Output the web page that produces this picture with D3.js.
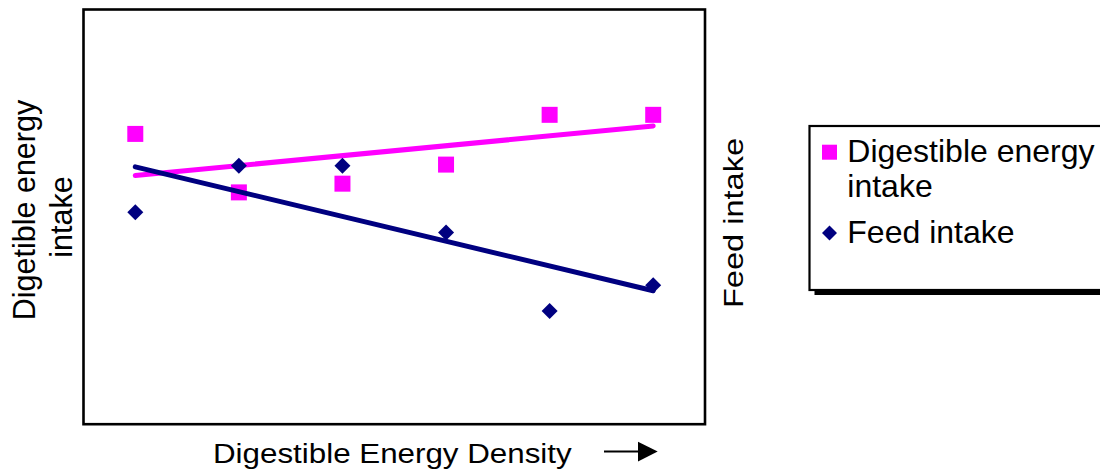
<!DOCTYPE html>
<html>
<head>
<meta charset="utf-8">
<script src="https://cdn.jsdelivr.net/npm/d3@7"></script>
<style>
  html, body { margin: 0; padding: 0; background: #fff; }
  svg { display: block; font-family: "Liberation Sans", Arial, sans-serif; }
</style>
</head>
<body>
<svg id="chart" width="1100" height="472"></svg>
<script>
// ---- data ----
const categories = [1, 2, 3, 4, 5, 6];
const deIntake   = [70.0, 55.9, 58.0, 62.6, 74.6, 74.6];   // Digestible energy intake (pink squares)
const feedIntake = [51.1, 62.3, 62.3, 46.2, 27.3, 33.5];   // Feed intake (navy diamonds)
const seriesNames = ["Digestible energy intake", "Feed intake"];
const yDomain = [0, 100];

// ---- layout ----
const svg = d3.select("#chart");
const plot = { left: 83.5, right: 705, top: 9.5, bottom: 424.2 };
const PINK = "#FF00FF", NAVY = "#000080";

const x = d3.scalePoint().domain(categories).range([plot.left, plot.right]).padding(0.5);
const y = d3.scaleLinear().domain(yDomain).range([plot.bottom, plot.top]);

function regression(xs, ys) {
  const n = xs.length;
  const mx = d3.mean(xs), my = d3.mean(ys);
  let sxy = 0, sxx = 0;
  for (let i = 0; i < n; i++) { sxy += (xs[i] - mx) * (ys[i] - my); sxx += (xs[i] - mx) ** 2; }
  const b = sxy / sxx, a = my - b * mx;
  return v => a + b * v;
}

// plot frame
svg.append("rect")
  .attr("x", plot.left).attr("y", plot.top)
  .attr("width", plot.right - plot.left).attr("height", plot.bottom - plot.top)
  .attr("fill", "#fff").attr("stroke", "#000").attr("stroke-width", 2.6);

const g = svg.append("g");
const line = d3.line().x(d => x(d[0])).y(d => y(d[1]));

function drawSeries(vals, color, shape) {
  const sym = d3.symbol().type(d3.symbolSquare).size(shape === "square" ? 256 : 128);
  g.append("g").selectAll("path").data(categories.map((c, i) => [c, vals[i]])).join("path")
    .attr("transform", d => `translate(${x(d[0])},${y(d[1])})` + (shape === "square" ? "" : " rotate(45)"))
    .attr("d", sym)
    .attr("fill", color);
  const f = regression(categories, vals);
  const ends = [categories[0], categories[categories.length - 1]];
  g.append("path")
    .attr("d", line(ends.map(c => [c, f(c)])))
    .attr("fill", "none").attr("stroke", color).attr("stroke-width", 5)
    .attr("stroke-linecap", "round");
}
drawSeries(deIntake, PINK, "square");
drawSeries(feedIntake, NAVY, "diamond");

// y axis title (left)
const lt = svg.append("g").attr("font-size", 30.5).attr("fill", "#000").attr("text-anchor", "middle");
lt.append("text").attr("transform", "translate(35,210) rotate(-90)").text("Digetible energy");
lt.append("text").attr("transform", "translate(71.7,217) rotate(-90)").text("intake");

// right title
svg.append("text")
  .attr("transform", "translate(743.3,223) rotate(-90)")
  .attr("text-anchor", "middle").attr("font-size", 28)
  .attr("textLength", 170).attr("lengthAdjust", "spacingAndGlyphs")
  .text("Feed intake");

// x title
svg.append("text")
  .attr("x", 213).attr("y", 462.5)
  .attr("font-size", 27.5)
  .attr("textLength", 358.7).attr("lengthAdjust", "spacingAndGlyphs")
  .text("Digestible Energy Density");

// arrow
svg.append("line").attr("x1", 604).attr("x2", 640).attr("y1", 451.5).attr("y2", 451.5)
  .attr("stroke", "#000").attr("stroke-width", 2);
svg.append("path").attr("d", "M638,441.7 L657.7,451.5 L638,461.5 Z").attr("fill", "#000");

// legend
const lg = svg.append("g");
lg.append("rect").attr("x", 814.5).attr("y", 131).attr("width", 400).attr("height", 164).attr("fill", "#000");
lg.append("rect").attr("x", 809.5).attr("y", 126).attr("width", 400).attr("height", 164)
  .attr("fill", "#fff").attr("stroke", "#000").attr("stroke-width", 2.2);
lg.append("path").attr("transform", "translate(829.5,152.2)")
  .attr("d", d3.symbol().type(d3.symbolSquare).size(225)).attr("fill", PINK);
lg.append("path").attr("transform", "translate(829.5,233) rotate(45)")
  .attr("d", d3.symbol().type(d3.symbolSquare).size(112)).attr("fill", NAVY);
const lt2 = lg.append("g").attr("font-size", 32).attr("fill", "#000");
lt2.append("text").attr("x", 847.3).attr("y", 161.7).text("Digestible energy");
lt2.append("text").attr("x", 847.3).attr("y", 197.3).text("intake");
lt2.append("text").attr("x", 847.3).attr("y", 243.3).text(seriesNames[1]);
</script>
</body>
</html>
